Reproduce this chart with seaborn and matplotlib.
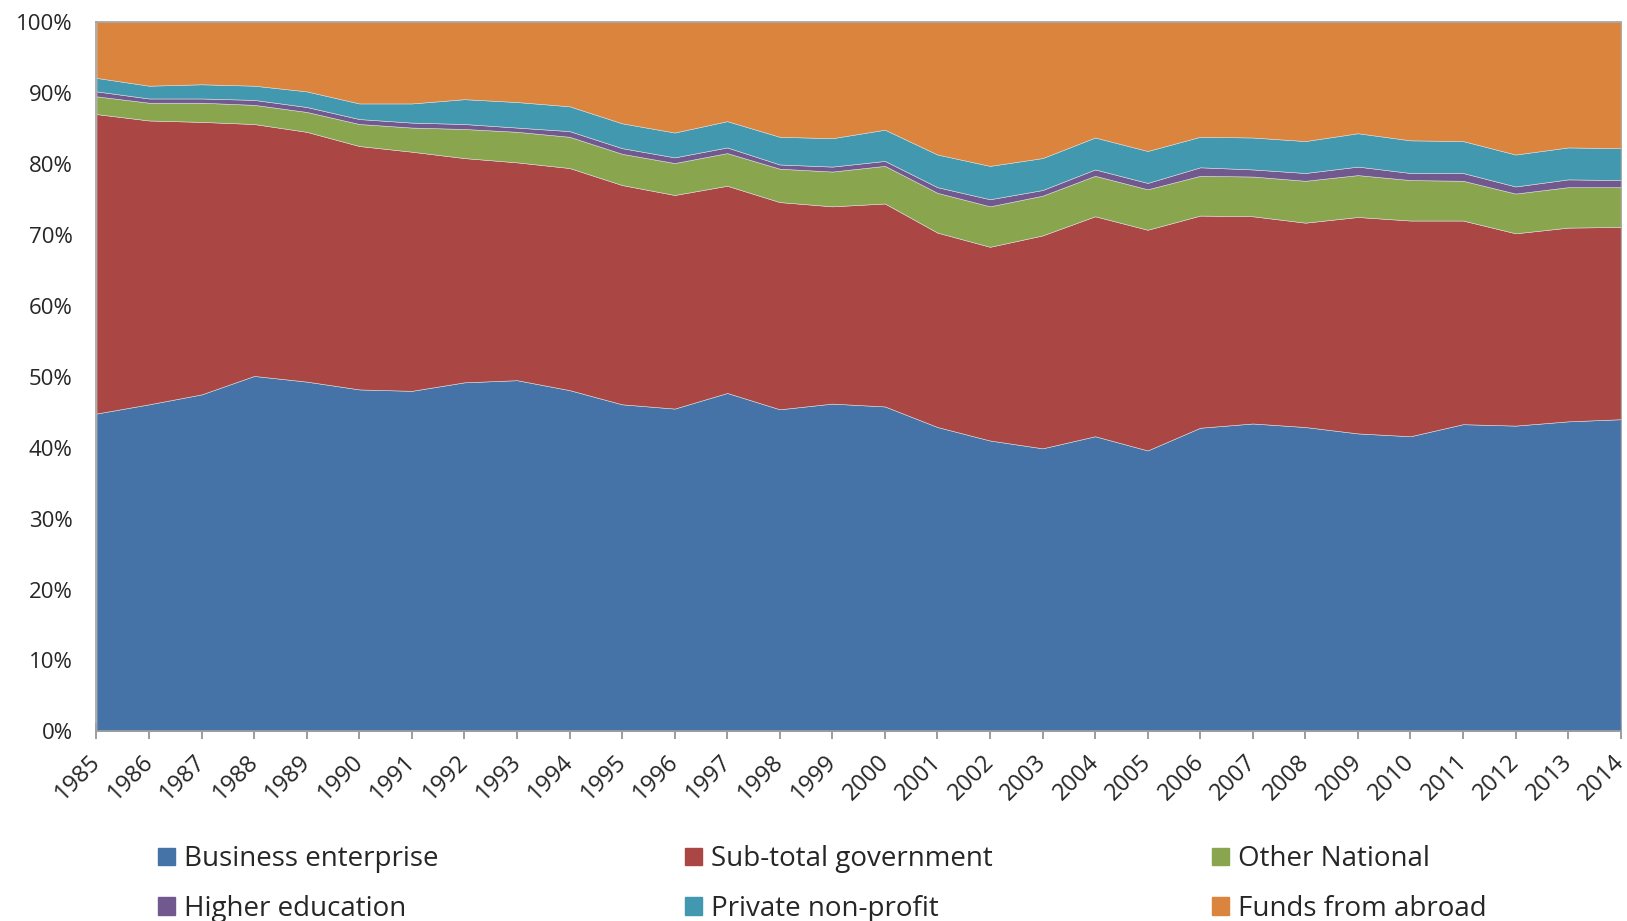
import numpy as np
import pandas as pd
import matplotlib
matplotlib.use("Agg")
import matplotlib.pyplot as plt
import matplotlib.patches as mpatches
import matplotlib.transforms as mtransforms
import seaborn as sns

# Доли источников финансирования (%)
years = list(range(1985, 2015))
business = [44.8, 46.1, 47.5, 50.1, 49.3, 48.2, 48.0, 49.2, 49.5, 48.1,
            46.1, 45.5, 47.7, 45.4, 46.2, 45.8, 42.9, 41.0, 39.9, 41.6,
            39.6, 42.8, 43.4, 42.9, 42.0, 41.6, 43.3, 43.1, 43.7, 44.0]
government = [42.2, 40.0, 38.4, 35.5, 35.2, 34.3, 33.7, 31.6, 30.7, 31.3,
              30.9, 30.1, 29.2, 29.2, 27.8, 28.6, 27.4, 27.3, 30.0, 31.0,
              31.1, 29.9, 29.2, 28.8, 30.5, 30.4, 28.7, 27.1, 27.3, 27.1]
other_national = [2.5, 2.5, 2.7, 2.7, 2.8, 3.1, 3.4, 4.1, 4.3, 4.4,
                  4.4, 4.5, 4.6, 4.7, 4.9, 5.3, 5.6, 5.7, 5.6, 5.7,
                  5.7, 5.6, 5.6, 5.9, 5.9, 5.7, 5.6, 5.6, 5.7, 5.6]
higher_edu = [0.7, 0.6, 0.6, 0.7, 0.7, 0.7, 0.7, 0.7, 0.6, 0.8,
              0.8, 0.8, 0.8, 0.6, 0.7, 0.7, 0.8, 1.0, 0.8, 0.9,
              0.9, 1.2, 1.0, 1.1, 1.2, 1.0, 1.1, 1.0, 1.1, 1.0]
private_np = [1.9, 1.8, 2.0, 2.0, 2.2, 2.2, 2.7, 3.5, 3.6, 3.5,
              3.5, 3.5, 3.7, 3.9, 4.0, 4.4, 4.6, 4.7, 4.5, 4.5,
              4.5, 4.3, 4.5, 4.5, 4.7, 4.6, 4.5, 4.5, 4.5, 4.5]
abroad = [7.9, 9.0, 8.8, 9.0, 9.8, 11.5, 11.5, 10.9, 11.3, 11.9,
          14.3, 15.6, 14.0, 16.2, 16.4, 15.2, 18.7, 20.3, 19.2, 16.3,
          18.2, 16.2, 16.3, 16.8, 15.7, 16.7, 16.8, 18.7, 17.7, 17.8]

labels = ['Business enterprise', 'Sub-total government', 'Other National',
          'Higher education', 'Private non-profit', 'Funds from abroad']
colors = ['#4572A7', '#AA4643', '#89A54E', '#71588F', '#4198AF', '#DB843D']

df = pd.DataFrame({'Year': years, labels[0]: business, labels[1]: government,
                   labels[2]: other_national, labels[3]: higher_edu,
                   labels[4]: private_np, labels[5]: abroad})
# Нормируем к 100%
shares = df[labels].div(df[labels].sum(axis=1), axis=0) * 100

sns.set_theme(style="white")
plt.rcParams['font.family'] = ['Open Sans', 'DejaVu Sans']

fig = plt.figure(figsize=(16.27, 9.21), dpi=100)
ax = fig.add_axes([0.0593, 0.2058, 0.9368, 0.7705])

ax.stackplot(df['Year'], *[shares[c] for c in labels], colors=colors,
             edgecolor='#d8d8d8', linewidth=0.4)

ax.set_xlim(1985, 2014)
ax.set_ylim(0, 100)
ax.set_xticks(years)
ax.set_xticklabels([str(y) for y in years], rotation=45, ha='right',
                   rotation_mode='anchor', fontsize=17)
ax.set_yticks(range(0, 101, 10))
ax.set_yticklabels([f'{v}%' for v in range(0, 101, 10)], fontsize=16)
ax.tick_params(axis='x', direction='inout', length=11, width=1.2,
               color='#8c8c8c', pad=8, bottom=True)
ax.tick_params(axis='y', length=0, pad=17)

# небольшой сдвиг подписей влево, чтобы 2014 не обрезалось
shift = mtransforms.ScaledTranslation(-8 / 100, 0, fig.dpi_scale_trans)
for lbl in ax.get_xticklabels():
    lbl.set_transform(lbl.get_transform() + shift)

for side in ['left', 'bottom', 'top', 'right']:
    ax.spines[side].set_color('#a0a0a0')
    ax.spines[side].set_linewidth(1.2)
ax.spines['right'].set_linewidth(0.6)

# Легенда: три колонки по два элемента
handles = [mpatches.Patch(color=c, label=l) for c, l in zip(colors, labels)]
col_x = [158 / 1627, 685 / 1627, 1212 / 1627]
for k, x in enumerate(col_x):
    idx = [k, k + 3]
    fig.legend([handles[i] for i in idx], [labels[i] for i in idx],
               loc='center left', bbox_to_anchor=(x, 0.040), frameon=False,
               fontsize=20, handlelength=0.6, handleheight=0.6,
               handletextpad=0.32, labelspacing=0.78, borderpad=0,
               borderaxespad=0)

fig.savefig('out.png', dpi=100)
